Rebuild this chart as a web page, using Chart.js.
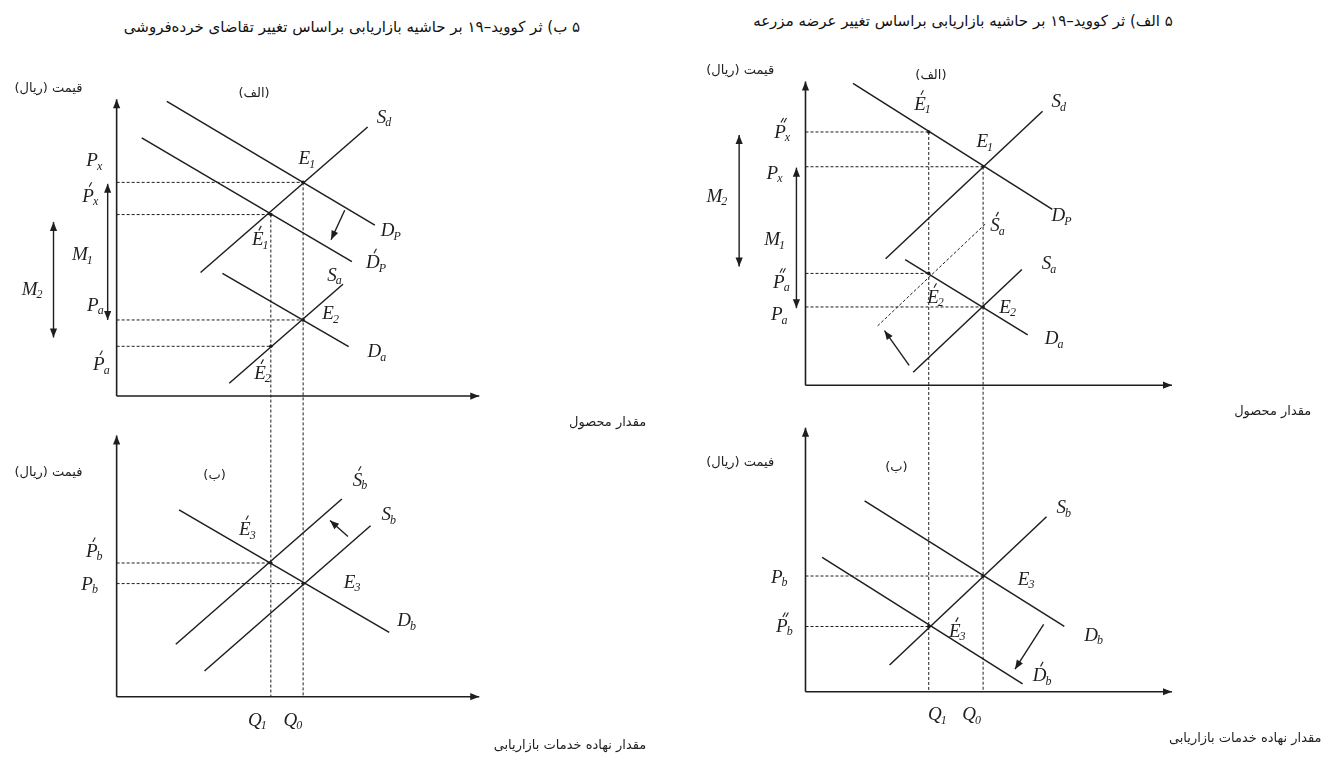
<!DOCTYPE html>
<html lang="fa">
<head>
<meta charset="utf-8">
<script src="https://cdn.jsdelivr.net/npm/chart.js@4.4.0/dist/chart.umd.min.js"></script>
<style>
  body { margin: 0; background: #fff; width: 1331px; height: 765px; position: relative; overflow: hidden; }
  canvas { position: absolute; }
  .titr { position: absolute; font: 15px "DejaVu Sans"; color: #111; direction: rtl; white-space: nowrap; transform: translateX(-50%); }
</style>
</head>
<body>
<div class="titr" style="left:352px; top:18px">۵ ب) ثر کووید–۱۹ بر حاشیه بازاریابی براساس تغییر تقاضای خرده‌فروشی</div>
<div class="titr" style="left:963px; top:12px">۵ الف) ثر کووید–۱۹ بر حاشیه بازاریابی براساس تغییر عرضه مزرعه</div>
<canvas id="chartChap" width="665" height="725" style="left:0; top:40px"></canvas>
<canvas id="chartRast" width="651" height="725" style="left:680px; top:40px"></canvas>
<script>
const INK = '#1e1e1e'

// ---- ستون چپ: تغییر تقاضای خرده‌فروشی (مقادیر بر حسب واحد محور، 0 تا 100) ----
// بازار محصول (الف)
const L_Dp = [[14, 100.7], [72, 58.4]]
const L_Dp2 = [[7, 88.2], [65.6, 45.9]]
const L_Sd = [[23.4, 42.2], [70, 91.9]]
const L_Sa = [[31.4, 4.4], [63.1, 38.2]]
const L_Da = [[29.5, 41.9], [64.7, 16.9]]
const L_topEq = [[52, 73], [43, 62], [52, 26], [43, 17]]   // E1, É1, E2, É2
// بازار خدمات بازاریابی (ب)
const L_Sb2 = [[16.5, 20.4], [62.8, 76.9]]
const L_Sb = [[24.5, 10], [70.8, 66.5]]
const L_Db = [[17.4, 72.7], [76, 25]]
const L_botEq = [[43, 52], [52, 44]]                       // É3, E3
const L_Q = [[43, 62], [52, 73]]                           // Q1, Q0 با قیمت بالای آن
const L_shift = [['yt', [63.6, 63.5], [59.8, 53.4]], ['yb', [64.5, 62.3], [59.5, 68.5]]]
const L_margin = [['yt', -2.5, 72.5, 26], ['yt', -17.6, 59.5, 20]]   // M1, M2
const L_sym = [
  ['yt', -6.1, 80.7, 'P', 'x', 0], ['yt', -7.2, 68.6, 'P', 'x', 1],
  ['yt', -9.4, 48.6, 'M', '1', 0], ['yt', -23.4, 36.8, 'M', '2', 0],
  ['yt', -5.8, 31.4, 'P', 'a', 0], ['yt', -4.1, 11.1, 'P', 'a', 1],
  ['yt', 53.2, 81.4, 'E', '1', 0], ['yt', 40.2, 53.7, 'E', '1', 1],
  ['yt', 59.8, 28.4, 'E', '2', 0], ['yt', 40.8, 8.1, 'E', '2', 1],
  ['yt', 74.7, 95.6, 'S', 'd', 0], ['yt', 76.6, 56.8, 'D', 'P', 0],
  ['yt', 72.5, 45.9, 'D', 'P', 1], ['yt', 60.9, 41.6, 'S', 'a', 0],
  ['yt', 72.7, 15.5, 'D', 'a', 0],
  ['yb', -6.1, 56.9, 'P', 'b', 1], ['yb', -7.4, 44.2, 'P', 'b', 0],
  ['yb', 36.6, 65.4, 'E', '3', 1], ['yb', 65.8, 45, 'E', '3', 0],
  ['yb', 68, 84.6, 'S', 'b', 1], ['yb', 76, 71.2, 'S', 'b', 0],
  ['yb', 81, 30, 'D', 'b', 0],
  ['yb', 39.4, -8.8, 'Q', '1', 0], ['yb', 49.3, -8.8, 'Q', '0', 0]
]
const L_text = [
  ['yt', -19, 105, 'قیمت (ریال)'], ['yt', 38.3, 103.4, '(الف)'],
  ['yb', -19, 87.3, 'فیمت (ریال)'], ['yb', 27.3, 85.8, '(ب)'],
  ['yt', 136.9, -9.1, 'مقدار محصول'], ['yb', 126.4, -19.2, 'مقدار نهاده خدمات بازاریابی']
]

// ---- ستون راست: تغییر عرضه مزرعه ----
const R_Dp = [[13.1, 100.7], [68.1, 58.7]]
const R_Sd = [[22.1, 42.2], [65.4, 91.4]]
const R_Sa = [[29.7, 4.3], [59.7, 38.6]]
const R_Sa2 = [[19.9, 19.8], [49.6, 53.8]]
const R_Da = [[27.5, 41.9], [61.3, 16.8]]
const R_topEq = [[34, 84.5], [49, 72.9], [34, 37.3], [49, 26.1]]   // É1, E1, É2, E2
const R_Db = [[16.3, 73.4], [71.4, 25.1]]
const R_Db2 = [[4.6, 51.7], [59.9, 3]]
const R_Sb = [[23.2, 10.3], [66.5, 67.3]]
const R_botEq = [[49, 44.5], [34, 25.1]]                           // E3, É3
const R_Q = [[34, 84.5], [49, 72.9]]
const R_shift = [['yt', [28.6, 6.6], [21.8, 18.2]], ['yb', [65.7, 25.9], [57.8, 8.7]]]
const R_margin = [['yt', -2.5, 72.6, 25.7], ['yt', -18.3, 83.5, 39.6]]
const R_sym = [
  ['yt', -6.3, 84.8, 'P', 'x', 2], ['yt', -8.4, 71, 'P', 'x', 0],
  ['yt', -24.3, 63.4, 'M', '2', 0], ['yt', -8.4, 48.8, 'M', '1', 0],
  ['yt', -6.5, 34.7, 'P', 'a', 2], ['yt', -7.1, 23.8, 'P', 'a', 0],
  ['yt', 32.4, 94.1, 'E', '1', 1], ['yt', 49.6, 81.5, 'E', '1', 0],
  ['yt', 70, 95, 'S', 'd', 0], ['yt', 70.8, 56.8, 'D', 'P', 0],
  ['yt', 53.1, 53.5, 'S', 'a', 1], ['yt', 67.3, 40.9, 'S', 'a', 0],
  ['yt', 36, 29.7, 'E', '2', 1], ['yt', 55.9, 26.4, 'E', '2', 0],
  ['yt', 68.7, 15.8, 'D', 'a', 0],
  ['yb', -7.1, 44.5, 'P', 'b', 0], ['yb', -5.7, 25.5, 'P', 'b', 2],
  ['yb', 61, 43.7, 'E', '3', 0], ['yb', 42, 23.6, 'E', '3', 1],
  ['yb', 71.4, 71.1, 'S', 'b', 0], ['yb', 79.6, 22.1, 'D', 'b', 0],
  ['yb', 65.4, 6.5, 'D', 'b', 1],
  ['yb', 36.5, -8.4, 'Q', '1', 0], ['yb', 46, -8.4, 'Q', '0', 0]
]
const R_text = [
  ['yt', -18, 105, 'قیمت (ریال)'], ['yt', 34.6, 103.3, '(الف)'],
  ['yb', -18, 88.2, 'فیمت (ریال)'], ['yb', 25.1, 86.3, '(ب)'],
  ['yt', 128.9, -8.9, 'مقدار محصول'], ['yb', 121.3, -17.9, 'مقدار نهاده خدمات بازاریابی']
]

// جای محورها روی صفحه (پیکسل)
const LAY_L = { left: 0, top: 40, w: 665, h: 725, x0: 114, x100: 477, t0: 396, t100: 100, b0: 700, b100: 440 }
const LAY_R = { left: 680, top: 40, w: 651, h: 725, x0: 803, x100: 1170, t0: 385, t100: 82, b0: 695, b100: 432 }

function rangeX(p0, p100, start, size) {
  const k = (p100 - p0) / 100
  return { min: (start - p0) / k, max: (start + size - p0) / k }
}
function rangeY(p0, p100, start, size) {
  const k = (p0 - p100) / 100
  const max = (p0 - start) / k
  return { min: max - size / k, max: max }
}

function seg(pts, axis, dashed) {
  return {
    data: pts.map(p => ({ x: p[0], y: p[1] })),
    yAxisID: axis,
    showLine: true,
    borderColor: INK,
    borderWidth: dashed ? 1 : 1.5,
    borderDash: dashed ? [3, 2] : [],
    pointRadius: 0,
    clip: false
  }
}
function guides(eq, axis) {
  return eq.map(p => seg([[0, p[1]], p], axis, true))
}
function dots(eq, axis) {
  return { data: eq.map(p => ({ x: p[0], y: p[1] })), yAxisID: axis, pointRadius: 1.8, backgroundColor: INK, borderWidth: 0, clip: false }
}

function arrowHead(ctx, x1, y1, x2, y2) {
  const a = Math.atan2(y2 - y1, x2 - x1)
  const len = 9, half = 3.6
  ctx.beginPath()
  ctx.moveTo(x2, y2)
  ctx.lineTo(x2 - len * Math.cos(a) + half * Math.sin(a), y2 - len * Math.sin(a) - half * Math.cos(a))
  ctx.lineTo(x2 - len * Math.cos(a) - half * Math.sin(a), y2 - len * Math.sin(a) + half * Math.cos(a))
  ctx.closePath()
  ctx.fill()
}
function arrow(ctx, x1, y1, x2, y2, both) {
  ctx.beginPath()
  ctx.moveTo(x1, y1)
  ctx.lineTo(x2, y2)
  ctx.stroke()
  arrowHead(ctx, x1, y1, x2, y2)
  if (both) arrowHead(ctx, x2, y2, x1, y1)
}

function symbol(ctx, cx, cy, main, sub, accent) {
  ctx.textAlign = 'left'
  ctx.textBaseline = 'alphabetic'
  ctx.font = 'italic 19px "Liberation Serif"'
  const wm = ctx.measureText(main).width
  ctx.font = 'italic 12px "Liberation Serif"'
  const ws = ctx.measureText(sub).width
  const x = cx - (wm + ws) / 2
  ctx.font = 'italic 19px "Liberation Serif"'
  ctx.fillText(main, x, cy + 6.5)
  ctx.font = 'italic 12px "Liberation Serif"'
  ctx.fillText(sub, x + wm - 1, cy + 10)
  ctx.lineWidth = 1.1
  for (let i = 0; i < accent; i++) {
    const ax = x + wm / 2 + 1 + i * 3
    ctx.beginPath()
    ctx.moveTo(ax, cy - 8.5)
    ctx.lineTo(ax + 2.5, cy - 13)
    ctx.stroke()
  }
}

function sketchPlugin(extra) {
  return {
    id: 'sketch',
    afterDatasetsDraw(chart) {
      const ctx = chart.ctx
      const sx = chart.scales.x
      const X = v => sx.getPixelForValue(v)
      const Y = (ax, v) => chart.scales[ax].getPixelForValue(v)
      ctx.save()
      ctx.strokeStyle = INK
      ctx.fillStyle = INK

      // محورها
      ctx.lineWidth = 1.6
      ;['yt', 'yb'].forEach(ax => {
        arrow(ctx, X(0), Y(ax, 0), X(0), Y(ax, 100) - 4, false)
        arrow(ctx, X(0), Y(ax, 0), X(100) + 4, Y(ax, 0), false)
      })

      // خطوط عمودی Q1 و Q0 از نمودار بالا تا محور پایین
      ctx.lineWidth = 1
      ctx.setLineDash([3, 2])
      extra.q.forEach(p => {
        ctx.beginPath()
        ctx.moveTo(X(p[0]), Y('yt', p[1]))
        ctx.lineTo(X(p[0]), Y('yb', 0))
        ctx.stroke()
      })
      ctx.setLineDash([])

      // پیکان‌ها
      ctx.lineWidth = 1.4
      extra.shift.forEach(s => arrow(ctx, X(s[1][0]), Y(s[0], s[1][1]), X(s[2][0]), Y(s[0], s[2][1]), false))
      extra.margin.forEach(m => arrow(ctx, X(m[1]), Y(m[0], m[2]), X(m[1]), Y(m[0], m[3]), true))

      // برچسب‌ها
      extra.sym.forEach(s => symbol(ctx, X(s[1]), Y(s[0], s[2]), s[3], s[4], s[5]))
      ctx.font = '13px "DejaVu Sans"'
      ctx.direction = 'rtl'
      ctx.textAlign = 'center'
      ctx.textBaseline = 'middle'
      extra.text.forEach(t => ctx.fillText(t[3], X(t[1]), Y(t[0], t[2])))
      ctx.restore()
    }
  }
}

function buildChart(id, lay, datasets, extra) {
  const rx = rangeX(lay.x0, lay.x100, lay.left, lay.w)
  const rt = rangeY(lay.t0, lay.t100, lay.top, lay.h)
  const rb = rangeY(lay.b0, lay.b100, lay.top, lay.h)
  return new Chart(document.getElementById(id), {
    type: 'scatter',
    data: { datasets: datasets },
    options: {
      responsive: false,
      devicePixelRatio: 1,
      animation: false,
      events: [],
      layout: { padding: 0 },
      plugins: { legend: { display: false }, tooltip: { enabled: false } },
      scales: {
        x: { type: 'linear', min: rx.min, max: rx.max, display: false },
        yt: { type: 'linear', min: rt.min, max: rt.max, display: false },
        yb: { type: 'linear', min: rb.min, max: rb.max, display: false }
      }
    },
    plugins: [sketchPlugin(extra)]
  })
}

buildChart('chartChap', LAY_L, [
  seg(L_Dp, 'yt'), seg(L_Dp2, 'yt'), seg(L_Sd, 'yt'), seg(L_Sa, 'yt'), seg(L_Da, 'yt'),
  ...guides(L_topEq, 'yt'), dots(L_topEq, 'yt'),
  seg(L_Sb2, 'yb'), seg(L_Sb, 'yb'), seg(L_Db, 'yb'),
  ...guides(L_botEq, 'yb'), dots(L_botEq, 'yb')
], { q: L_Q, shift: L_shift, margin: L_margin, sym: L_sym, text: L_text })

buildChart('chartRast', LAY_R, [
  seg(R_Dp, 'yt'), seg(R_Sd, 'yt'), seg(R_Sa, 'yt'), seg(R_Sa2, 'yt', true), seg(R_Da, 'yt'),
  ...guides(R_topEq, 'yt'), dots(R_topEq, 'yt'),
  seg(R_Db, 'yb'), seg(R_Db2, 'yb'), seg(R_Sb, 'yb'),
  ...guides(R_botEq, 'yb'), dots(R_botEq, 'yb')
], { q: R_Q, shift: R_shift, margin: R_margin, sym: R_sym, text: R_text })
</script>
</body>
</html>
